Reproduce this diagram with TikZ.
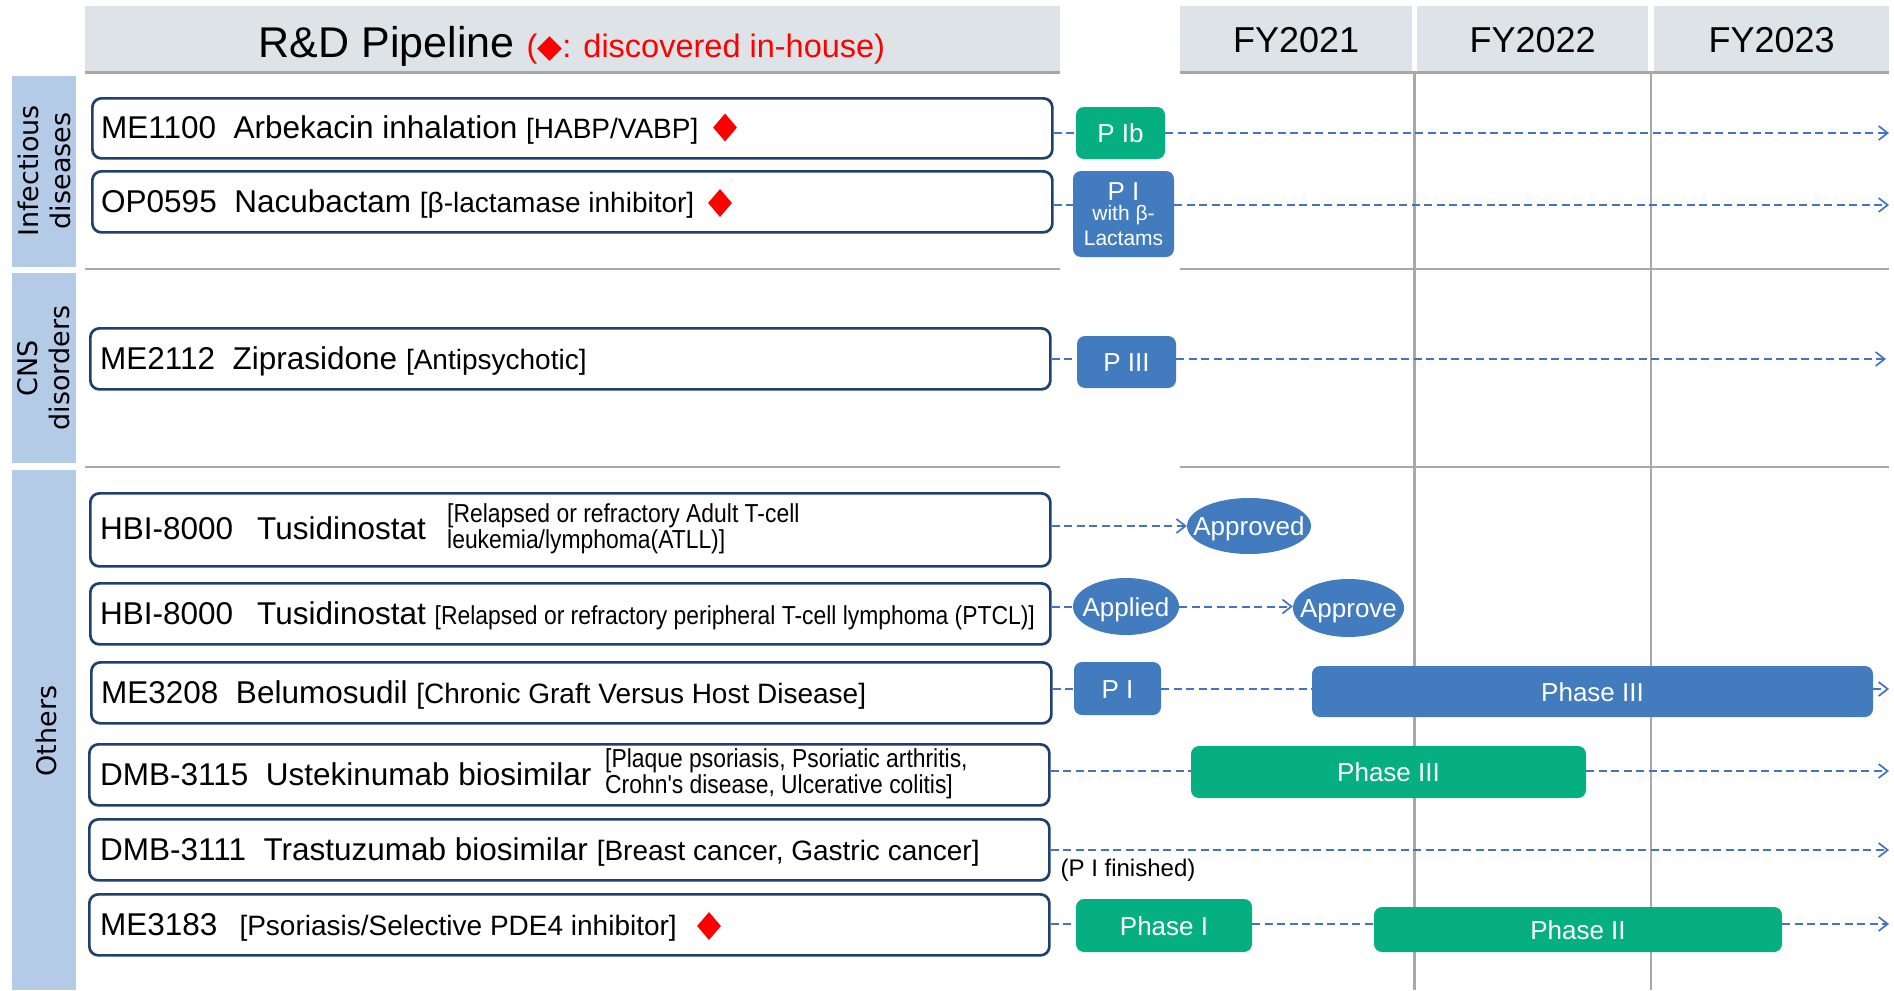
\documentclass[tikz,border=0pt]{standalone}
\usepackage{fontspec}
\setmainfont{Liberation Sans}
\newfontfamily\narrowf[FakeStretch=0.88]{Liberation Sans}
\newfontfamily\djv{DejaVu Sans}
\usetikzlibrary{shapes.geometric,arrows.meta}
\definecolor{hdrgray}{RGB}{222,227,232}
\definecolor{catblue}{RGB}{180,203,232}
\definecolor{navy}{RGB}{32,64,112}
\definecolor{stblue}{RGB}{66,123,190}
\definecolor{stgreen}{RGB}{6,175,130}
\definecolor{dblue}{RGB}{68,114,196}
\definecolor{gridgray}{RGB}{168,168,168}
\newcommand{\mainsz}{\fontsize{31.5}{36}\selectfont}
\newcommand{\bracksz}{\fontsize{28}{32}\selectfont}
\newcommand{\narrowsz}{\narrowf\fontsize{26}{26}\selectfont}
\newcommand{\stagesz}{\fontsize{26}{30}\selectfont}
\newcommand{\catsz}{\djv\fontsize{27}{32}\selectfont}
\tikzset{
 hdr/.style={fill=hdrgray, inner sep=0pt, anchor=north west, minimum height=66},
 fytxt/.style={font=\fontsize{36}{40}\selectfont, text height=26pt, text depth=0pt},
 catband/.style={fill=catblue, inner sep=0pt, anchor=north west, minimum width=64},
 catlbl/.style={rotate=90, align=center, font=\catsz, inner sep=0pt},
 itembox/.style={draw=navy, line width=2.7pt, rounded corners=9pt, fill=white, inner sep=0pt, anchor=north west, minimum width=960, minimum height=61},
 itxt/.style={anchor=base west, inner sep=0pt, font=\mainsz},
 ntxt/.style={anchor=west, inner sep=0pt, align=left, font=\narrowsz},
 gem/.style={diamond, fill=red, inner sep=0pt, minimum width=24, minimum height=28},
 stagebase/.style={rounded corners=8pt, inner sep=0pt, text=white},
 stage/.style={stagebase, font=\stagesz, text height=19pt, text depth=0pt},
 bstage/.style={stage, fill=stblue},
 gstage/.style={stage, fill=stgreen},
 oval/.style={ellipse, fill=stblue, inner sep=0pt},
 ovlbl/.style={text=white, font=\stagesz, inner sep=0pt, text height=19pt, text depth=0pt},
 dline/.style={draw=dblue, line width=2pt, dash pattern=on 8pt off 4.5pt},
 darr/.style={dline, -{Straight Barb[length=9pt,width=14pt,line width=1.7pt]}},
 sepline/.style={draw=gridgray, line width=2.5pt},
 gridline/.style={draw=gridgray, line width=2.2pt},
}
\begin{document}
\begin{tikzpicture}[x=1pt,y=-1pt]
\useasboundingbox (0,0) rectangle (1894,990);
% headers
\node[hdr, minimum width=975] (hdrL) at (85,6) {};
\node[anchor=base, inner sep=0pt] (title) at (572,57) {\fontsize{43}{48}\selectfont R\&D Pipeline {\color{red}\fontsize{32.5}{36}\selectfont({\djv ◆}: discovered in-house)}};
\node[hdr, minimum width=232] (fy1) at (1180,6) {};
\node[hdr, minimum width=231] (fy2) at (1417,6) {};
\node[hdr, minimum width=235] (fy3) at (1654,6) {};
\node[fytxt] (fy1t) at (fy1.center) {FY2021};
\node[fytxt] (fy2t) at (fy2.center) {FY2022};
\node[fytxt] (fy3t) at (fy3.center) {FY2023};
% category bands
\node[catband, minimum height=191] (cat1) at (12,76) {};
\node[catband, minimum height=190] (cat2) at (12,273) {};
\node[catband, minimum height=520] (cat3) at (12,470) {};
\node[catlbl] (cat1t) at (44,171) {Infectious\\diseases};
\node[catlbl] (cat2t) at (44,368) {CNS\\disorders};
\node[catlbl] (cat3t) at (46,731) {Others};
% grid lines
\draw[gridline] (1414.5,72) -- (1414.5,990);
\draw[gridline] (1651,72) -- (1651,990);
\draw[sepline] (hdrL.south west) -- (hdrL.south east);
\draw[sepline] (fy1.south west) -- (fy3.south east);
\draw[sepline] (85,269) -- (1060,269);
\draw[sepline] (1180,269) -- (1889,269);
\draw[sepline] (85,467) -- (1060,467);
\draw[sepline] (1180,467) -- (1889,467);
% item boxes
\node[itembox, minimum height=60] (b1) at (91,97) {};
\node[itembox] (b2) at (91,170) {};
\node[itembox] (b3) at (89,327) {};
\node[itembox, minimum height=73] (b4) at (89,492) {};
\node[itembox] (b5) at (89,582) {};
\node[itembox] (b6) at (90,661) {};
\node[itembox] (b7) at (88,743) {};
\node[itembox] (b8) at (88,818) {};
\node[itembox] (b9) at (88,893) {};
\node[itxt] (t1) at (101,138) {ME1100\ \ Arbekacin inhalation {\bracksz[HABP/VABP]}};
\node[gem] (g1) at (725,127.5) {};
\node[itxt] (t2) at (101,212) {OP0595\ \ Nacubactam {\bracksz[β-lactamase inhibitor]}};
\node[gem] (g2) at (720,203) {};
\node[itxt] (t3) at (100,369) {ME2112\ \ Ziprasidone {\bracksz[Antipsychotic]}};
\node[itxt] (t4) at (100,539) {HBI-8000\hspace{24pt}Tusidinostat};
\node[ntxt] (n4) at (447,528.5) {[Relapsed or refractory Adult T-cell\\leukemia/lymphoma(ATLL)]};
\node[itxt] (t5) at (100,624) {HBI-8000\hspace{24pt}Tusidinostat {\narrowsz[Relapsed or refractory peripheral T-cell lymphoma (PTCL)]}};
\node[itxt] (t6) at (101,703) {ME3208\ \ Belumosudil {\bracksz[Chronic Graft Versus Host Disease]}};
\node[itxt] (t7) at (100,785) {DMB-3115\ \ Ustekinumab biosimilar};
\node[ntxt] (n7) at (605,774) {[Plaque psoriasis, Psoriatic arthritis,\\Crohn's disease, Ulcerative colitis]};
\node[itxt] (t8) at (100,860) {DMB-3111\ \ Trastuzumab biosimilar {\bracksz[Breast cancer, Gastric cancer]}};
\node[itxt] (t9) at (100,935) {ME3183\hspace{22pt}{\bracksz[Psoriasis/Selective PDE4 inhibitor]}};
\node[gem] (g9) at (709,926) {};
% stages
\node[gstage, minimum width=89, minimum height=52] (p1) at (1120.5,133) {P Ib};
\node[stagebase, fill=stblue, minimum width=101, minimum height=86, align=center, font=\fontsize{21}{25}\selectfont] (p2) at (1123.5,214) {{\fontsize{26}{28}\selectfont P I}\\[-5pt]with β-\\Lactams};
\node[bstage, minimum width=99, minimum height=52] (p3) at (1126.5,362) {P III};
\node[oval, minimum width=124, minimum height=56, label={[ovlbl]center:Approved}] (ap1) at (1249,526) {};
\node[oval, minimum width=106, minimum height=57, label={[ovlbl]center:Applied}] (apl) at (1126,606.5) {};
\node[oval, minimum width=111, minimum height=58, label={[ovlbl]center:Approve}] (apr) at (1348.5,608) {};
\node[bstage, minimum width=87, minimum height=53] (p6a) at (1117.5,688.5) {P I};
\node[bstage, minimum width=561, minimum height=51] (p6b) at (1592.5,691.5) {Phase III};
\node[gstage, minimum width=395, minimum height=52] (p7) at (1388.5,772) {Phase III};
\node[font=\fontsize{24}{28}\selectfont, inner sep=0pt] (pfin) at (1128,870) {(P I finished)};
\node[gstage, minimum width=176, minimum height=53] (p9a) at (1164,925.5) {Phase I};
\node[gstage, minimum width=408, minimum height=45] (p9b) at (1578,929.5) {Phase II};
% connectors
\coordinate (r1) at (1889,133);
\coordinate (r2) at (1889,205);
\coordinate (r3) at (1886,359);
\coordinate (r6) at (1889,689);
\coordinate (r7) at (1889,771);
\coordinate (r8) at (1889,850);
\coordinate (r9) at (1889,924);
\draw[dline] (b1.east |- p1.west) -- (p1.west);
\draw[darr] (p1.east) -- (r1);
\draw[dline] (b2.east |- r2) -- (p2.west |- r2);
\draw[darr] (p2.east |- r2) -- (r2);
\draw[dline] (b3.east |- r3) -- (p3.west |- r3);
\draw[darr] (p3.east |- r3) -- (r3);
\draw[darr] (b4.east |- ap1.west) -- (ap1.west);
\draw[dline] (b5.east |- apl.west) -- (apl.west);
\draw[darr] (apl.east) -- (apr.west |- apl.east);
\draw[dline] (b6.east |- r6) -- (p6a.west |- r6);
\draw[dline] (p6a.east |- r6) -- (p6b.west |- r6);
\draw[darr] (p6b.east |- r6) -- (r6);
\draw[dline] (b7.east |- r7) -- (p7.west |- r7);
\draw[darr] (p7.east |- r7) -- (r7);
\draw[darr] (b8.east |- r8) -- (r8);
\draw[dline] (b9.east |- r9) -- (p9a.west |- r9);
\draw[dline] (p9a.east |- r9) -- (p9b.west |- r9);
\draw[darr] (p9b.east |- r9) -- (r9);
\end{tikzpicture}
\end{document}
